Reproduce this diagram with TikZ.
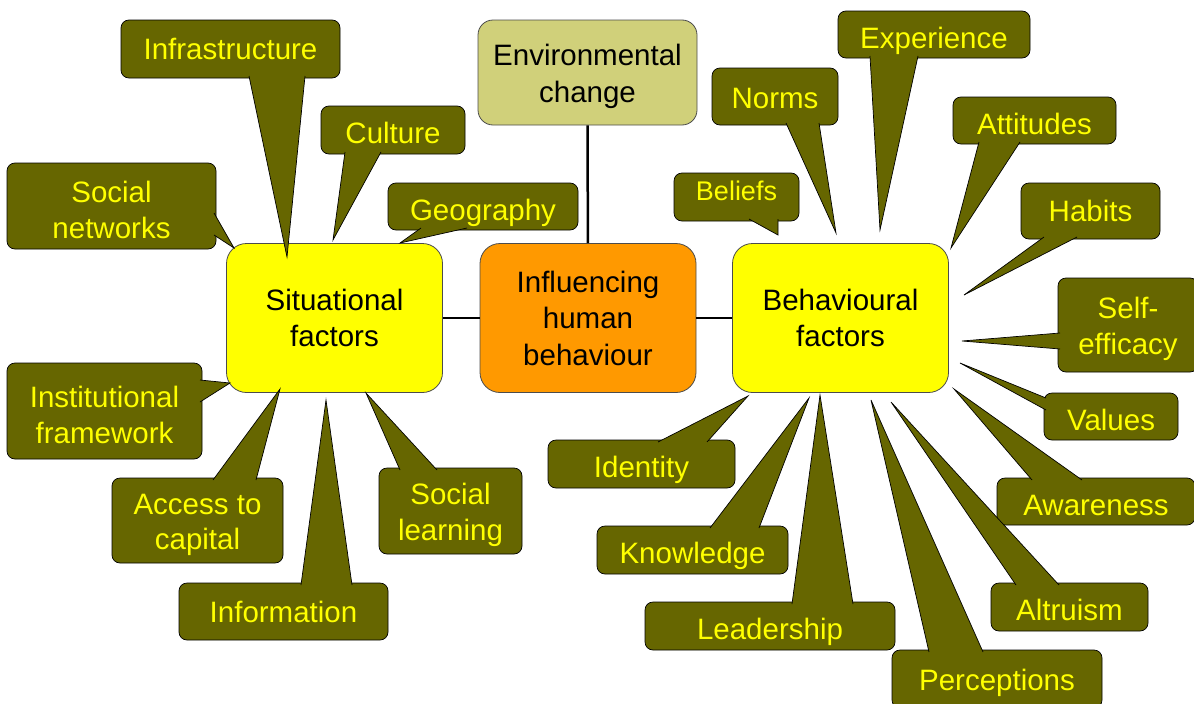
\documentclass[tikz,border=0pt]{standalone}
\usepackage{fontspec}
\setmainfont{Liberation Sans}
\usepackage{tikz}
\definecolor{olivebox}{HTML}{666600}
\definecolor{khakibox}{HTML}{D0D07A}
\definecolor{orangebox}{HTML}{FF9900}
\definecolor{yellowbox}{HTML}{FFFF00}

\begin{document}
\begin{tikzpicture}[x=1pt, y=-1pt,
  factor/.style={draw=black!70, line width=0.8pt, rounded corners=20pt, align=center, inner sep=0pt,
    minimum width=216pt, minimum height=149pt, font=\fontsize{29.5}{36.5}\selectfont},
  callout/.style={draw=black, line width=0.7pt, fill=olivebox, rounded corners=8pt, text=yellowbox,
    align=center, inner sep=0pt, text height=27pt, text depth=0pt, font=\fontsize{29.5}{35.5}\selectfont},
  twoline/.style={text height=65pt, text depth=},
  pointer/.style={draw=black, line width=0.7pt, fill=olivebox, line join=miter},
  link/.style={line width=2.5pt}]
\useasboundingbox (0,0) rectangle (1194,704);

% centre of the map
\node[factor, fill=khakibox, rounded corners=15pt, minimum width=219pt, minimum height=105pt, text height=66pt] (env) at (587.5,72.5) {Environmental\\change};
\node[factor, fill=orangebox] (infl) at (588,318) {Influencing\\human\\behaviour};
\node[factor, fill=yellowbox] (sit) at (334.5,318) {Situational\\factors};
\node[factor, fill=yellowbox] (beh) at (840.5,318) {Behavioural\\factors};
\draw[link] (env) -- (infl);
\draw[link] (sit) -- (infl);
\draw[link] (infl) -- (beh);

% situational factors
\node[callout, minimum width=219pt, minimum height=58pt, text height=21pt] (infra) at (230.5,49) {Infrastructure};
\filldraw[pointer] (249,76) -- (287,257) -- (305,76);
\node[callout, minimum width=144pt, minimum height=48pt] (culture) at (393,130) {Culture};
\filldraw[pointer] (345,152) -- (333,240) -- (381,152);
\node[callout, twoline, minimum width=209pt, minimum height=86pt] (socnet) at (111.5,206) {Social\\networks};
\filldraw[pointer] (214,213) -- (234,248) -- (214,235);
\node[callout, minimum width=190pt, minimum height=47pt] (geo) at (483,206.5) {Geography};
\filldraw[pointer] (421,228) -- (400,243) -- (467,228);
\node[callout, twoline, minimum width=195pt, minimum height=96pt] (inst) at (104.5,411) {Institutional\\framework};
\filldraw[pointer] (200,380) -- (230,383) -- (200,402);
\node[callout, twoline, minimum width=171pt, minimum height=85pt] (access) at (197.5,520.5) {Access to\\capital};
\filldraw[pointer] (213,480) -- (280,389) -- (256,480);
\node[callout, minimum width=209pt, minimum height=57pt, text height=22pt] (info) at (283.5,611.5) {Information};
\filldraw[pointer] (301,585) -- (326,400) -- (352,585);
\node[callout, twoline, minimum width=143pt, minimum height=86pt] (soclearn) at (450.5,511) {Social\\learning};
\filldraw[pointer] (400,470) -- (366,393) -- (437,470);

% behavioural factors
\node[callout, minimum width=126pt, minimum height=57pt, text height=23pt] (norms) at (775,96.5) {Norms};
\filldraw[pointer] (786,123) -- (836,233) -- (819,123);
\node[callout, minimum width=192pt, minimum height=47pt] (exper) at (934,34.5) {Experience};
\filldraw[pointer] (870,56) -- (880,230) -- (918,56);
\node[callout, minimum width=163pt, minimum height=47pt] (attit) at (1034.5,120.5) {Attitudes};
\filldraw[pointer] (979,142) -- (951,248) -- (1020,142);
\node[callout, minimum width=125pt, minimum height=48pt, text height=19pt, text depth=12pt, font=\fontsize{27}{32}\selectfont] (beliefs) at (736.5,197) {Beliefs};
\filldraw[pointer] (749,219) -- (778,235) -- (778,219);
\node[callout, minimum width=139pt, minimum height=56pt, text height=21pt] (habits) at (1090.5,211) {Habits};
\filldraw[pointer] (1044,237) -- (964,295) -- (1077,237);
\node[callout, twoline, minimum width=140pt, minimum height=94pt] (selfeff) at (1128,325) {Self-\\efficacy};
\filldraw[pointer] (1060,333) -- (962,341) -- (1060,349);
\node[callout, minimum width=134pt, minimum height=47pt] (values) at (1111,416.5) {Values};
\filldraw[pointer] (1046,398) -- (960,363) -- (1046,410);
\node[callout, minimum width=198pt, minimum height=47pt] (aware) at (1096,501.5) {Awareness};
\filldraw[pointer] (1032,480) -- (954,389) -- (1082,480);
\node[callout, minimum width=157pt, minimum height=48pt] (altru) at (1069.5,607) {Altruism};
\filldraw[pointer] (1016,585) -- (891,402) -- (1059,585);
\node[callout, minimum width=210pt, minimum height=58pt, text height=22pt] (percep) at (997,679) {Perceptions};
\filldraw[pointer] (929,652) -- (871,400) -- (983,652);
\node[callout, minimum width=250pt, minimum height=48pt] (leader) at (770,626) {Leadership};
\filldraw[pointer] (792,604) -- (820,395) -- (853,604);
\node[callout, minimum width=191pt, minimum height=48pt] (know) at (692.5,550) {Knowledge};
\filldraw[pointer] (710,528) -- (809,398) -- (759,528);
\node[callout, minimum width=187pt, minimum height=48pt] (ident) at (641.5,464) {Identity};
\filldraw[pointer] (658,442) -- (748,396) -- (707,442);
\end{tikzpicture}
\end{document}
